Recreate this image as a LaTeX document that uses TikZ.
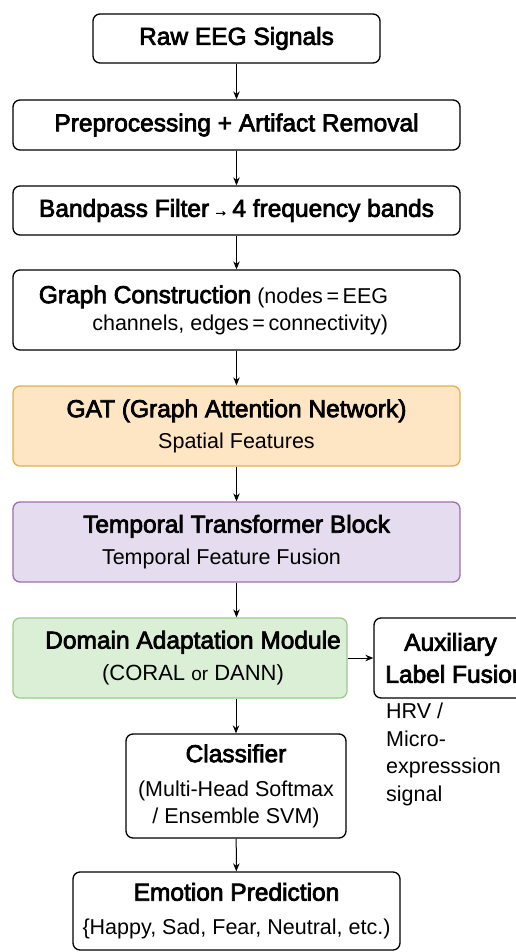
\documentclass[tikz,border=0pt]{standalone}
\usepackage{fontspec}
\setmainfont{Liberation Sans}
\newfontfamily\medfont{Liberation Sans}[FakeBold=3]
\usetikzlibrary{arrows.meta}

\definecolor{gatfill}{HTML}{FEE6C4}
\definecolor{gatline}{HTML}{E0B24C}
\definecolor{tmpfill}{HTML}{E6DCF0}
\definecolor{tmpline}{HTML}{9C6FAA}
\definecolor{dafill}{HTML}{DAEFD5}
\definecolor{daline}{HTML}{9DCB8A}

% font sizes for box titles, sub-lines and side notes
\newcommand{\ttlfont}{\medfont\fontsize{24.5}{27}\selectfont}
\newcommand{\subfont}{\fontsize{21.5}{27}\selectfont}
\newcommand{\notefont}{\fontsize{21.5}{27.5}\selectfont}

\begin{document}
\begin{tikzpicture}[x=1pt,y=1pt,
  box/.style={draw=black, line width=1.3pt, rounded corners=7pt, fill=white,
              inner sep=0pt, align=center, font=\subfont},
  gatbox/.style={box, draw=gatline, fill=gatfill},
  tmpbox/.style={box, draw=tmpline, fill=tmpfill},
  dabox/.style={box, draw=daline, fill=dafill},
  flow/.style={-{Stealth[length=8pt,width=6.5pt]}, line width=1pt, draw=black}]

\useasboundingbox (0,0) rectangle (516,-952);

% pipeline boxes
\node (raw) [box, minimum width=287, minimum height=49] at (236.5,-38.5)
  {{\ttlfont Raw EEG Signals}};
\node (pre) [box, minimum width=447, minimum height=50] at (236.5,-125)
  {{\ttlfont Preprocessing + Artifact Removal}};
\node (band) [box, minimum width=447, minimum height=49] at (236.5,-210.5)
  {{\ttlfont Bandpass Filter\,{\fontsize{15}{15}\selectfont\raisebox{1pt}{→}}\,4 frequency bands}};
\node (graph) [box, minimum width=447, minimum height=80, align=right] at (236.5,-310)
  {{\ttlfont Graph Construction} (nodes\,=\,EEG\hspace*{46pt}\\
   channels, edges\,=\,connectivity)\hspace*{46pt}};
\node (gat) [gatbox, minimum width=447, minimum height=80] at (236.5,-426)
  {{\ttlfont GAT (Graph Attention Network)}\\[4pt] Spatial Features};
\node (tmp) [tmpbox, minimum width=447, minimum height=80] at (236.5,-542)
  {{\ttlfont Temporal Transformer Block}\\[5pt] Temporal Feature Fusion\hspace*{30pt}};
\node (da) [dabox, minimum width=334, minimum height=80] at (180,-658)
  {\hspace*{26pt}{\ttlfont Domain Adaptation Module}\\[5pt]
   \hspace*{26pt}{\fontsize{22}{27}\selectfont (CORAL {\fontsize{19}{27}\selectfont or} DANN)}};
\node (aux) [box, minimum width=153, minimum height=80] at (450.5,-658)
  {{\ttlfont Auxiliary}\\[5pt]\hspace*{10pt}{\ttlfont Label Fusion}};
\node (note) [anchor=north west, inner sep=0pt, align=left, font=\notefont] at (386,-703)
  {HRV /\\ Micro-\\ expresssion\\ signal};
\node (cls) [box, minimum width=220, minimum height=104] at (236,-786)
  {{\ttlfont Classifier}\\[7pt] (Multi-Head Softmax\\ / Ensemble SVM)};
\node (emo) [box, minimum width=327, minimum height=78] at (236.5,-911)
  {{\ttlfont Emotion Prediction}\\[7pt] \{Happy, Sad, Fear, Neutral, etc.)};

% connectors
\draw[flow] (raw) -- (pre);
\draw[flow] (pre) -- (band);
\draw[flow] (band) -- (graph);
\draw[flow] (graph) -- (gat);
\draw[flow] (gat) -- (tmp);
\draw[flow] (tmp.south) -- (tmp.south |- da.north);
\draw[flow] (da.east) -- (aux.west);
\draw[flow] (cls.north |- da.south) -- (cls.north);
\draw[flow] (cls) -- (emo);
\end{tikzpicture}
\end{document}
